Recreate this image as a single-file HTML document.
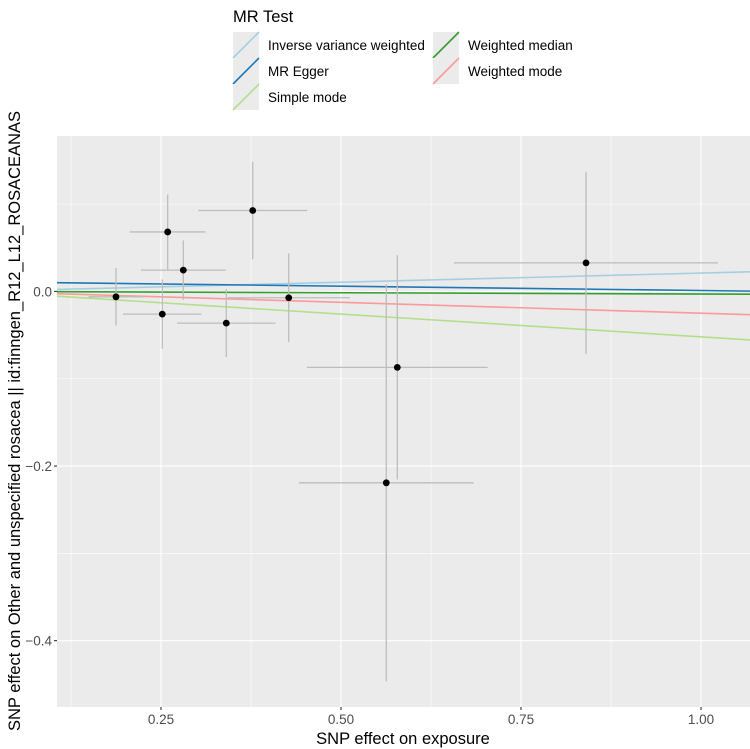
<!DOCTYPE html>
<html><head><meta charset="utf-8"><style>
body{margin:0;background:#fff}
svg{display:block;font-family:"Liberation Sans",Arial,sans-serif}
</style></head><body>
<svg id="chart" width="750" height="749" viewBox="0 0 750 749" xmlns="http://www.w3.org/2000/svg">
<rect x="57" y="136" width="693" height="571" fill="#EBEBEB"/>
<g id="grid"></g>
<g id="lines"></g>
<g id="errs"></g>
<g id="pts"></g>
<g id="axes"></g>
<text x="403" y="744" text-anchor="middle" font-size="16.5" fill="#000">SNP effect on exposure</text>
<text transform="translate(20,421) rotate(-90)" text-anchor="middle" font-size="16.5" textLength="620" lengthAdjust="spacingAndGlyphs" fill="#000">SNP effect on Other and unspecified rosacea || id:finngen_R12_L12_ROSACEANAS</text>
<g>
<text x="233" y="22" font-size="16.5" fill="#000">MR Test</text>
<g id="legend"></g>
</g>
</svg>
<script>
const ns="http://www.w3.org/2000/svg";
const snpX=[0.1875,0.2593,0.281,0.2518,0.3407,0.3774,0.4274,0.5782,0.5629,0.8403];
const snpY=[-0.0062,0.0681,0.0244,-0.026,-0.0363,0.0927,-0.0073,-0.087,-0.2192,0.0327];
const snpXse=[0.038,0.0525,0.0589,0.0545,0.0684,0.0757,0.0851,0.1255,0.1213,0.1834];
const snpYse=[0.0329,0.0428,0.034,0.0398,0.0389,0.0558,0.0508,0.1285,0.2275,0.1044];
const methods=["Inverse variance weighted","MR Egger","Simple mode","Weighted median","Weighted mode"];
const slopes=[0.021,-0.010,-0.052,-0.003,-0.025];
const intercepts=[0,0.011,0,0,0];
const colors=["#A6CEE3","#1F78B4","#B2DF8A","#33A02C","#FB9A99"];
const xTicks=[0.25,0.5,0.75,1.0];
const xTickLabels=["0.25","0.50","0.75","1.00"];
const yTicks=[0,-0.2,-0.4];
const yTickLabels=["0.0","-0.2","-0.4"];
const xMinor=[0.125,0.375,0.625,0.875];
const yMinor=[0.1,-0.1,-0.3];
const L=57,R=750,T=136,B=707;
const X0=0.1056,X1=1.068,Y0=-0.476,Y1=0.178;
const sx=v=>L+(v-X0)/(X1-X0)*(R-L);
const sy=v=>B-(v-Y0)/(Y1-Y0)*(B-T);
function mk(tag,attrs,parent){const e=document.createElementNS(ns,tag);for(const k in attrs)e.setAttribute(k,attrs[k]);document.getElementById(parent).appendChild(e);return e;}
xMinor.forEach(v=>{const e=mk('line',{x1:sx(v),x2:sx(v),y1:T,y2:B,stroke:'#fff','stroke-width':0.55},'grid');

});
yMinor.forEach(v=>{const e=mk('line',{x1:L,x2:R,y1:sy(v),y2:sy(v),stroke:'#fff','stroke-width':0.55},'grid');

});
xTicks.forEach((v,i)=>{const e=mk('line',{x1:sx(v),x2:sx(v),y1:T,y2:B,stroke:'#fff','stroke-width':1.1},'grid');


const t=mk('line',{x1:sx(v),x2:sx(v),y1:B,y2:B+3,stroke:'#333','stroke-width':1.1},'axes');


const l=mk('text',{x:sx(v),y:B+17,'text-anchor':'middle','font-size':13.5,fill:'#4D4D4D'},'axes');l.textContent=xTickLabels[i];

});
yTicks.forEach((v,i)=>{const e=mk('line',{x1:L,x2:R,y1:sy(v),y2:sy(v),stroke:'#fff','stroke-width':1.1},'grid');


const t=mk('line',{x1:L-3,x2:L,y1:sy(v),y2:sy(v),stroke:'#333','stroke-width':1.1},'axes');


const l=mk('text',{x:L-5,y:sy(v)+5,'text-anchor':'end','font-size':13.5,fill:'#4D4D4D'},'axes');l.textContent=yTickLabels[i].replace('-','\u2212');

});
methods.forEach((m,i)=>{const e=mk('line',{x1:L,x2:R,y1:sy(intercepts[i]+slopes[i]*X0),y2:sy(intercepts[i]+slopes[i]*X1),stroke:colors[i],'stroke-width':1.6},'lines');


const col=i<3?0:1,row=i<3?i:i-3;
const kx=col?433:233,ky=32+row*26;
const kr=mk('rect',{x:kx,y:ky,width:26,height:26,fill:'#EBEBEB'},'legend');


const kl=mk('line',{x1:kx,y1:ky+26,x2:kx+26,y2:ky,stroke:colors[i],'stroke-width':1.6},'legend');


const kt=mk('text',{x:col?468:268,y:ky+18,'font-size':13.5,fill:'#000'},'legend');kt.textContent=m;

});
snpX.forEach((x,i)=>{const y=snpY[i];
const h=mk('line',{x1:sx(x-snpXse[i]),x2:sx(x+snpXse[i]),y1:sy(y),y2:sy(y),stroke:'#BDBDBD','stroke-width':1.3},'errs');


const v=mk('line',{x1:sx(x),x2:sx(x),y1:sy(y-snpYse[i]),y2:sy(y+snpYse[i]),stroke:'#BDBDBD','stroke-width':1.3},'errs');


const p=mk('circle',{cx:sx(x),cy:sy(y),r:3.4,fill:'#000'},'pts');

});
</script>
</body></html>
